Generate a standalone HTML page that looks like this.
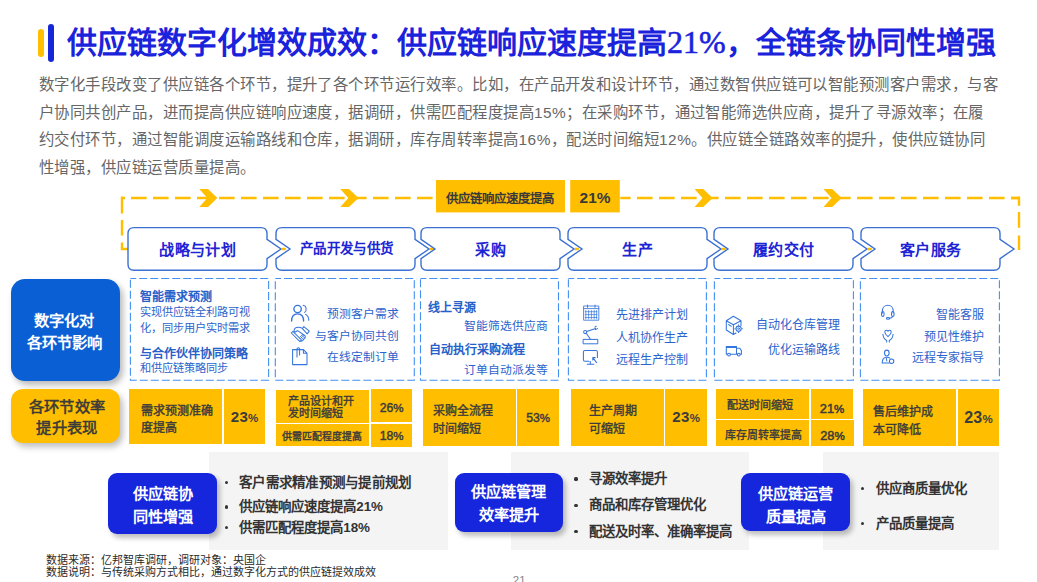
<!DOCTYPE html>
<html lang="zh-CN"><head><meta charset="utf-8">
<style>
*{margin:0;padding:0;box-sizing:border-box}
html,body{width:1037px;height:582px;overflow:hidden;background:#fff}
body{position:relative;font-family:"Liberation Sans",sans-serif}
.a{position:absolute;white-space:nowrap}
.title{left:67px;top:22px;font-family:"Liberation Serif",serif;font-weight:bold;font-size:30px;line-height:40px;color:#1a22dc}
.para{left:39px;top:71.3px;font-size:15.4px;line-height:27.5px;color:#666;letter-spacing:0.47px}
.chev{position:absolute;left:0;top:0}
.ct{position:absolute;top:236.7px;height:26px;line-height:26px;font-size:15px;font-weight:bold;color:#1c24d4;text-align:center;letter-spacing:0.45px;text-indent:0.45px}
.ybox{position:absolute;background:#ffbe00}
.dbox{position:absolute;top:278px;height:102px;width:139px;border:1.5px dashed #4a8fe6}
.bt{position:absolute;font-size:12px;font-weight:bold;color:#2760c8;line-height:16px}
.rt{position:absolute;font-size:11.5px;color:#2c63cc;line-height:16px}
.mt{position:absolute;font-size:12px;font-weight:normal;color:#3c3c3c;line-height:18px;-webkit-text-stroke:0.4px #3c3c3c}
.pct{position:absolute;font-weight:bold;color:#3c3c3c;text-align:center}
.gp{position:absolute;top:452px;height:98px;background:#f4f4f4}
.bb{position:absolute;background:#1526dd;border-radius:9px;color:#fff;font-weight:bold;font-size:15.2px;line-height:22.8px;text-align:center;box-shadow:3px 4px 5px rgba(0,0,0,.25)}
.li{position:absolute;font-size:13.4px;font-weight:bold;color:#333;line-height:18px}
.li:before{content:"";position:absolute;left:-14.6px;top:7.4px;width:3.2px;height:3.2px;border-radius:50%;background:#333}
</style></head><body>

<!-- title bars -->
<div class="a" style="left:38px;top:29px;width:6px;height:28px;background:#ffbe00;border-radius:3px"></div>
<div class="a" style="left:48px;top:24px;width:6px;height:38px;background:#1526d9;border-radius:3px"></div>
<div class="a title">供应链数字化增效成效：供应链响应速度提高<span style="font-weight:normal;font-size:32px;-webkit-text-stroke:0.6px #1a22dc">21%</span>，全链条协同性增强</div>

<div class="a para">数字化手段改变了供应链各个环节，提升了各个环节运行效率。比如，在产品开发和设计环节，通过数智供应链可以智能预测客户需求，与客<br>户协同共创产品，进而提高供应链响应速度，据调研，供需匹配程度提高15%；在采购环节，通过智能筛选供应商，提升了寻源效率；在履<br>约交付环节，通过智能调度运输路线和仓库，据调研，库存周转率提高16%，配送时间缩短12%。供应链全链路效率的提升，使供应链协同<br>性增强，供应链运营质量提高。</div>


<svg class="a" style="left:0;top:0" width="1037" height="582" viewBox="0 0 1037 582">
<g stroke="#ffbe00" fill="none">
<path d="M131,198 H1019" stroke-width="2.5" stroke-dasharray="15.6 6.4"/>
<path d="M121,198 H125 M122,196.5 V213.6 M122,220 V235.5 M122,242.5 V249 H128" stroke-width="2.4"/>
<path d="M1011,198 H1019.9 M1019,196.5 V205.7 M1019,212 V227.7 M1019,235.5 V250" stroke-width="2.4"/>
</g>
<g fill="#ffbe00">
<path d="M199.3,189 H208 L217.3,198 L208,206.9 H199.3 L207.3,198 Z"/>
<path d="M340.3,189 H349 L358.5,198 L349,206.9 H340.3 L348.3,198 Z"/>
<path d="M694.5,189 H703.2 L712.7,198 L703.2,206.9 H694.5 L702.5,198 Z"/>
<path d="M823.5,189 H832.2 L841.7,198 L832.2,206.9 H823.5 L831.5,198 Z"/>
</g>
<rect x="433" y="185" width="187.3" height="24" fill="#fff"/>
<rect x="436" y="180" width="129" height="32.4" fill="#ffbe00"/>
<rect x="570.2" y="180" width="49.6" height="32.4" fill="#ffbe00"/>
<g stroke="#ffbe00" stroke-width="2.4"><path d="M281.8,249 H285.8 M429.8,249 H433.8 M574.8,249 H578.8 M721.8,249 H725.8 M867.8,249 H871.8"/></g>
<path d="M134,227.6 H261 Q267,227.6 267,233.6 V239.4 L281,249 L267,258.6 V264.2 Q267,270.2 261,270.2 H134 Q128,270.2 128,264.2 V233.6 Q128,227.6 134,227.6 Z" fill="#fff" stroke="#3a70d2" stroke-width="1.4"/>
<path d="M282,227.6 H409 Q415,227.6 415,233.6 V239.4 L429,249 L415,258.6 V264.2 Q415,270.2 409,270.2 H282 Q276,270.2 276,264.2 V258.6 L290,249 L276,239.4 V233.6 Q276,227.6 282,227.6 Z" fill="#fff" stroke="#3a70d2" stroke-width="1.4"/>
<path d="M427,227.6 H554 Q560,227.6 560,233.6 V239.4 L574,249 L560,258.6 V264.2 Q560,270.2 554,270.2 H427 Q421,270.2 421,264.2 V258.6 L435,249 L421,239.4 V233.6 Q421,227.6 427,227.6 Z" fill="#fff" stroke="#3a70d2" stroke-width="1.4"/>
<path d="M574,227.6 H701 Q707,227.6 707,233.6 V239.4 L721,249 L707,258.6 V264.2 Q707,270.2 701,270.2 H574 Q568,270.2 568,264.2 V258.6 L582,249 L568,239.4 V233.6 Q568,227.6 574,227.6 Z" fill="#fff" stroke="#3a70d2" stroke-width="1.4"/>
<path d="M720,227.6 H847 Q853,227.6 853,233.6 V239.4 L867,249 L853,258.6 V264.2 Q853,270.2 847,270.2 H720 Q714,270.2 714,264.2 V258.6 L728,249 L714,239.4 V233.6 Q714,227.6 720,227.6 Z" fill="#fff" stroke="#3a70d2" stroke-width="1.4"/>
<path d="M867,227.6 H994 Q1000,227.6 1000,233.6 V239.4 L1014,249 L1000,258.6 V264.2 Q1000,270.2 994,270.2 H867 Q861,270.2 861,264.2 V258.6 L875,249 L861,239.4 V233.6 Q861,227.6 867,227.6 Z" fill="#fff" stroke="#3a70d2" stroke-width="1.4"/>
<g fill="none" stroke="#4490f2" stroke-width="1.1" stroke-dasharray="8 3" stroke-dashoffset="2.2">
<rect x="130.4" y="278.5" width="138.2" height="101.8"/>
<rect x="275.3" y="278.5" width="139" height="101.8"/>
<rect x="420.5" y="278.5" width="138" height="101.8"/>
<rect x="568.4" y="278.5" width="138" height="101.8"/>
<rect x="714.4" y="278.5" width="139" height="101.8"/>
<rect x="860.4" y="278.5" width="139" height="101.8"/>
</g>
</svg>

<div class="a" style="left:435px;top:182.6px;width:129px;height:32px;line-height:32px;text-align:center;font-size:12.4px;font-weight:bold;color:#3a3a3a">供应链响应速度提高</div>
<div class="a" style="left:570px;top:181.6px;width:50px;height:32px;line-height:32px;text-align:center;font-size:15.4px;font-weight:bold;color:#3a3a3a">21%</div>

<div class="ct" style="left:128px;width:139px">战略与计划</div>
<div class="ct" style="left:276px;width:141px;font-size:13.5px;top:235.8px;letter-spacing:0.35px">产品开发与供货</div>
<div class="ct" style="left:421px;width:139px">采购</div>
<div class="ct" style="left:568px;width:139px">生产</div>
<div class="ct" style="left:714px;width:139px">履约交付</div>
<div class="ct" style="left:861px;width:139px">客户服务</div>


<!-- left labels -->
<div class="a" style="left:11px;top:279px;width:109px;height:102px;background:#0b5fd4;border-radius:14px;box-shadow:3px 4px 6px rgba(0,0,0,.28);color:#fff;font-weight:bold;font-size:15.3px;line-height:22.6px;text-align:center;padding-top:30.6px;padding-right:3px">数字化对<br>各环节影响</div>
<div class="a" style="left:11px;top:389px;width:109px;height:54.2px;background:#ffbe00;border-radius:12px;box-shadow:3px 4px 6px rgba(0,0,0,.25);color:#3a3a3a;font-weight:normal;-webkit-text-stroke:0.55px #3a3a3a;font-size:15.3px;line-height:21.5px;text-align:center;padding-top:6.6px;padding-left:3px;letter-spacing:0.4px">各环节效率<br>提升表现</div>

<!-- box1 -->
<div class="bt" style="left:140px;top:288.5px">智能需求预测</div>
<div class="rt" style="left:140px;top:303.8px;font-size:11.2px">实现供应链全利路可视</div>
<div class="rt" style="left:140px;top:319.5px;font-size:11.2px">化，同步用户实时需求</div>
<div class="bt" style="left:140px;top:346.2px">与合作伙伴协同策略</div>
<div class="rt" style="left:140px;top:359.7px;font-size:11.2px">和供应链策略同步</div>

<!-- box2 -->
<div class="rt" style="right:638px;top:305.8px;font-size:11.8px">预测客户需求</div>
<div class="rt" style="right:638px;top:327.8px;font-size:11.8px">与客户协同共创</div>
<div class="rt" style="right:638px;top:349.3px;font-size:11.8px">在线定制订单</div>

<!-- box3 -->
<div class="bt" style="left:428px;top:299.6px">线上寻源</div>
<div class="rt" style="right:489.5px;top:317.8px;font-size:11.8px">智能筛选供应商</div>
<div class="bt" style="left:429px;top:341.6px">自动执行采购流程</div>
<div class="rt" style="right:489.5px;top:361.6px;font-size:11.8px">订单自动派发等</div>

<!-- box4 -->
<div class="rt" style="left:616.4px;top:307.2px;font-size:12px">先进排产计划</div>
<div class="rt" style="left:616.4px;top:329.6px;font-size:12px">人机协作生产</div>
<div class="rt" style="left:616.4px;top:351.5px;font-size:12px">远程生产控制</div>

<!-- box5 -->
<div class="rt" style="right:197.5px;top:316.6px;font-size:12px">自动化仓库管理</div>
<div class="rt" style="right:197.5px;top:341.5px;font-size:12px">优化运输路线</div>

<!-- box6 -->
<div class="rt" style="right:53.5px;top:306.5px;font-size:12px">智能客服</div>
<div class="rt" style="right:53.5px;top:328.5px;font-size:12px">预见性维护</div>
<div class="rt" style="right:53.5px;top:350.4px;font-size:12px">远程专家指导</div>

<!-- icons -->
<svg class="a" style="left:0;top:0" width="1037" height="582" viewBox="0 0 1037 582">
<g fill="none" stroke="#3475de" stroke-width="1.05" stroke-linecap="round" stroke-linejoin="round">
<!-- people -->
<circle cx="297.6" cy="309" r="3.7" stroke-width="1.35"/>
<path d="M291.6,321 C291.6,316.3 294.2,313.8 297.6,313.8 C301,313.8 303.6,316.3 303.6,321" stroke-width="1.35"/>
<path d="M303.2,305.3 C306.5,305.8 307.2,310.5 304.6,312.4"/>
<path d="M305.6,314.4 C307.6,315.4 308.8,317.5 308.8,320.2"/>
<!-- handshake -->
<path d="M291.3,333 L292.9,331.4 L301.5,340 L299.9,341.6 Z"/>
<path d="M302.4,328.6 L303.8,326.6 L309.3,331.2 L307.2,333.8 Z"/>
<path d="M302.4,328.4 C300.4,327.3 298.4,326.9 296.5,327.5 C294.6,328.2 293.8,330 294.3,331.9 C295.3,332.5 296.3,331.3 297.6,330.6 L305,335.8 C305.6,336.6 305.4,337.6 304.6,338.2 L302.6,340.6 C302,341.2 301.3,341.2 300.8,340.7"/>
<path d="M300.9,336.9 L303.2,339.3 M302.3,335.6 L304.5,338 M300.5,338.6 L303.6,335.6 M299.8,337.2 L302.6,334.5" stroke-width="0.8"/>
<!-- doc -->
<path d="M292.6,349.6 H303.4 L307,353.2 V364.6 H292.6 Z M303.4,349.6 V353.2 H307"/>
<path d="M297,357 V349 C297,347.2 299.6,347.2 299.6,349 V355"/>
<!-- calendar -->
<path d="M583.6,306.4 V320.2 H598.8 V306.4 Z" stroke-width="0.85"/>
<path d="M583.6,308.6 H598.8 M587.5,305 V307.5 M595,305 V307.5" stroke-width="0.85"/>
<path d="M585.2,311.7 H597 M585.2,314.6 H597 M585.2,317.5 H597 M585.8,310.5 V318.8 M588.6,310.5 V318.8 M591.4,310.5 V318.8 M594.2,310.5 V318.8 M596.6,310.5 V318.8" stroke-width="0.7"/>
<!-- robot arm -->
<rect x="583.5" y="339.4" width="14.3" height="4.4" stroke-width="1"/>
<circle cx="585.2" cy="332" r="1.6" stroke-width="1.05"/>
<path d="M586.7,331.5 L595.6,328.4 M586.2,333.3 L590.5,339.2 M595.4,329.6 L597.5,328.6 M595,327.2 L596.2,326.2" stroke-width="1.05"/>
<!-- monitor -->
<path d="M589,361.3 H585 C584,361.3 583.4,360.7 583.4,359.7 V352 C583.4,351 584,350.4 585,350.4 H595.8 C596.8,350.4 597.4,351 597.4,352 V357.5"/>
<path d="M587.3,364.2 H593.8 M590.3,361.5 V364.2" stroke-width="1.1"/>
<path d="M592.8,357.6 L596.6,362.6 M592.8,357.6 H595.2 M592.8,357.6 V360"/>
<!-- cube with gear -->
<path d="M733.4,316.3 L741,320.7 V325.4 M733.4,316.3 L726.3,320.7 V330 L733.4,334.5 L736,333 M726.3,320.7 L733.4,324.7 V334.5 M733.4,324.7 L741,320.7 M728.6,324.6 L731.2,326.3"/>
<circle cx="738.6" cy="328.7" r="2.6"/><circle cx="738.6" cy="328.7" r="0.9" stroke-width="0.9"/>
<path d="M738.6,325.3 V324.9 M738.6,332.1 V332.5 M735.2,328.7 H734.8 M742,328.7 H742.4" stroke-width="1.1"/>
<!-- truck -->
<path d="M726.3,346.4 H736.5 V354.2 H726.3 Z M736.5,348.2 H739.8 L741.4,350.6 V354.2 H736.5 M726.3,347.4 H736.5"/>
<circle cx="729" cy="354.6" r="1.4" fill="#fff"/><circle cx="738.8" cy="354.6" r="1.4" fill="#fff"/>
<!-- headset -->
<path d="M882.4,313 V311 C882.4,307.5 884.8,305.3 887.8,305.3 C890.8,305.3 893.2,307.5 893.2,311 V313"/>
<ellipse cx="882.8" cy="314" rx="1.3" ry="2.5"/><ellipse cx="892.8" cy="314" rx="1.3" ry="2.5"/>
<path d="M892.6,316.5 C892.2,317.6 891,318.2 889.6,318.3"/><ellipse cx="888" cy="318.4" rx="1.6" ry="0.9"/>
<!-- heart hands -->
<path d="M888,336.6 C885.8,335 884.8,333.6 884.8,332.1 C884.8,330.8 885.7,330.2 886.5,330.2 C887.2,330.2 887.7,330.7 888,331.2 C888.3,330.7 888.8,330.2 889.5,330.2 C890.3,330.2 891.2,330.8 891.2,332.1 C891.2,333.6 890.2,335 888,336.6 Z"/>
<path d="M883,334.3 C883,337.5 884.8,339.6 886.7,340.4 V342 M893,334.3 C893,337.5 891.2,339.6 889.3,340.4 V342"/>
<!-- expert -->
<ellipse cx="886.8" cy="353" rx="2.3" ry="2.9"/>
<path d="M882.2,363 C882.2,359 883.8,357.3 886.8,357.3 C888.2,357.3 889.2,357.6 889.9,358.2 M882.2,363 H889 M886.2,357.5 L886.8,361"/>
<circle cx="891.6" cy="361.2" r="2.2"/>
</g>
</svg>

<!-- metric boxes -->
<div class="ybox" style="left:129px;top:389.4px;width:93px;height:54.8px"></div>
<div class="ybox" style="left:224px;top:389.4px;width:41px;height:54.8px"></div>
<div class="mt" style="left:141px;top:402.6px;line-height:17px">需求预测准确<br>度提高</div>
<div class="pct" style="left:224px;top:405.1px;width:41px;line-height:24px;font-size:15px;letter-spacing:0.3px">23<span style="font-size:11.5px;letter-spacing:0">%</span></div>

<div class="ybox" style="left:276.2px;top:390px;width:92.8px;height:32.7px"></div>
<div class="ybox" style="left:371px;top:389px;width:41px;height:33px"></div>
<div class="ybox" style="left:276.2px;top:424.1px;width:92.8px;height:21.7px"></div>
<div class="ybox" style="left:371px;top:424.1px;width:41px;height:22.7px"></div>
<div class="mt" style="left:288.4px;top:394.6px;line-height:12.6px;font-size:11px">产品设计和开<br>发时间缩短</div>
<div class="pct" style="left:371.2px;top:400px;width:40.7px;line-height:17px;font-size:12.2px;font-weight:normal;-webkit-text-stroke:0.45px #3c3c3c">26<span style="font-size:11.5px">%</span></div>
<div class="mt" style="left:282.4px;top:428.5px;line-height:16px;font-size:9.9px">供需匹配程度提高</div>
<div class="pct" style="left:371.2px;top:428px;width:40.7px;line-height:17px;font-size:12.2px;font-weight:normal;-webkit-text-stroke:0.45px #3c3c3c">18<span style="font-size:11.5px">%</span></div>

<div class="ybox" style="left:423.2px;top:389px;width:92.4px;height:56.8px"></div>
<div class="ybox" style="left:517.1px;top:389px;width:41.9px;height:56.8px"></div>
<div class="mt" style="left:433.4px;top:401.7px">采购全流程<br>时间缩短</div>
<div class="pct" style="left:517.1px;top:409.9px;width:41.9px;line-height:17px;font-size:12.2px;font-weight:normal;-webkit-text-stroke:0.45px #3c3c3c">53<span style="font-size:11.5px">%</span></div>

<div class="ybox" style="left:570.5px;top:389px;width:93.2px;height:56.8px"></div>
<div class="ybox" style="left:665.2px;top:389px;width:41.9px;height:56.8px"></div>
<div class="mt" style="left:589px;top:402px">生产周期<br>可缩短</div>
<div class="pct" style="left:665.2px;top:405.2px;width:41.9px;line-height:24px;font-size:15px;letter-spacing:0.3px">23<span style="font-size:11.5px;letter-spacing:0">%</span></div>

<div class="ybox" style="left:716px;top:389px;width:92.7px;height:30px"></div>
<div class="ybox" style="left:811.1px;top:389px;width:41.9px;height:30px"></div>
<div class="ybox" style="left:716px;top:420.4px;width:92.7px;height:25.5px"></div>
<div class="ybox" style="left:811.1px;top:420.4px;width:42.8px;height:25.5px"></div>
<div class="mt" style="left:727.4px;top:396.8px;font-size:11px;line-height:16px">配送时间缩短</div>
<div class="pct" style="left:811.1px;top:399.8px;width:41.9px;line-height:17px;font-size:12.8px;font-weight:normal;-webkit-text-stroke:0.5px #3c3c3c">21<span style="font-size:11.5px">%</span></div>
<div class="mt" style="left:725.3px;top:426.7px;font-size:10.9px;line-height:16px">库存周转率提高</div>
<div class="pct" style="left:811.1px;top:427.4px;width:42.8px;line-height:17px;font-size:12.8px;font-weight:normal;-webkit-text-stroke:0.5px #3c3c3c">28<span style="font-size:11.5px">%</span></div>

<div class="ybox" style="left:863.2px;top:388.9px;width:92.7px;height:57.2px"></div>
<div class="ybox" style="left:958.2px;top:388.9px;width:40.6px;height:57.2px"></div>
<div class="mt" style="left:873.2px;top:402.8px">售后维护成<br>本可降低</div>
<div class="pct" style="left:958.2px;top:406px;width:40.6px;line-height:24px;font-size:16px;letter-spacing:0.3px">23<span style="font-size:11.5px;letter-spacing:0">%</span></div>

<!-- bottom -->
<div class="gp" style="left:209.3px;width:238.5px"></div>
<div class="gp" style="left:511px;width:237.8px"></div>
<div class="gp" style="left:823.3px;width:175.5px"></div>

<div class="bb" style="left:108px;top:473px;width:109px;height:61px;padding-top:9.8px">供应链协<br>同性增强</div>
<div class="bb" style="left:454.5px;top:473.4px;width:108.3px;height:58.8px;padding-top:7.8px">供应链管理<br>效率提升</div>
<div class="bb" style="left:741.4px;top:473.1px;width:108.5px;height:58.4px;padding-top:10px">供应链运营<br>质量提高</div>

<div class="li" style="left:239.2px;top:473.8px;font-size:13.5px;letter-spacing:0.25px">客户需求精准预测与提前规划</div>
<div class="li" style="left:239.2px;top:498.1px">供应链响应速度提高21%</div>
<div class="li" style="left:239.2px;top:518.5px">供需匹配程度提高18%</div>

<div class="li" style="left:589px;top:470.0px">寻源效率提升</div>
<div class="li" style="left:589px;top:496.2px">商品和库存管理优化</div>
<div class="li" style="left:589px;top:522.5px">配送及时率、准确率提高</div>

<div class="li" style="left:875.9px;top:479.8px">供应商质量优化</div>
<div class="li" style="left:875.9px;top:514.6px">产品质量提高</div>

<div class="a" style="left:46.2px;top:554.2px;font-size:11px;line-height:12.3px;color:#2a2a2a">数据来源：亿邦智库调研，调研对象：央国企<br>数据说明：与传统采购方式相比，通过数字化方式的供应链提效成效</div>
<div class="a" style="left:512.8px;top:573.8px;font-size:11.5px;line-height:13px;color:#888">21</div>

</body></html>
